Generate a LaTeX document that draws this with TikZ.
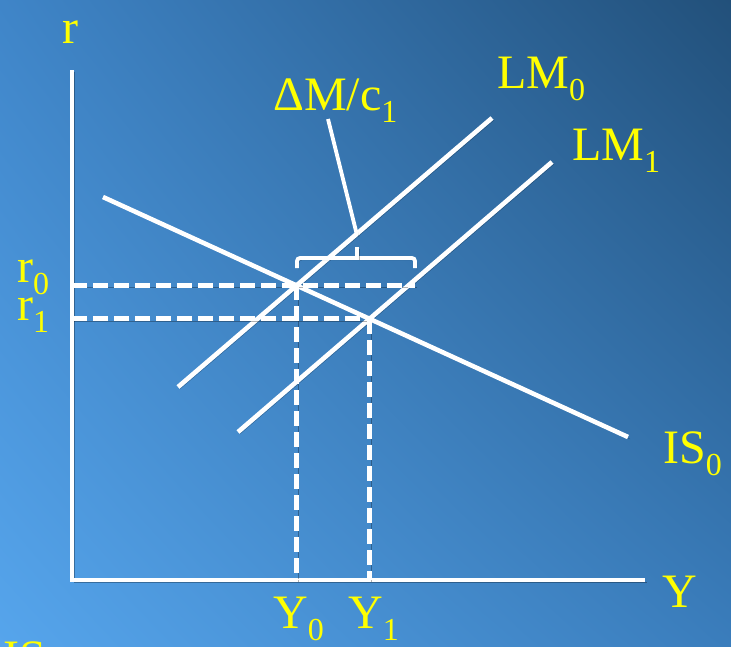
\documentclass[tikz,border=0pt]{standalone}
\usepackage{fontspec}
\setmainfont{Liberation Serif}
\usetikzlibrary{calc,shadings}
\definecolor{bgtl}{HTML}{3F85C8}
\definecolor{bgtr}{HTML}{22507A}
\definecolor{bgbl}{HTML}{56A5EC}
\definecolor{bgbr}{HTML}{3A7DBC}
\definecolor{lblyellow}{HTML}{FFFF00}
\newcommand{\subs}[1]{\raisebox{-12pt}{\fontsize{32}{32}\selectfont #1}}
\tikzset{
  shadowed/.style={preaction={draw=black, opacity=0.3, transform canvas={shift={(2pt,-2pt)}}}},
  curve/.style={draw=white, line width=4.6pt, shadowed},
  guide/.style={draw=white, line width=4.8pt, dash pattern=on 15pt off 6pt, shadowed},
  lbl/.style={text=lblyellow, anchor=base west, inner sep=0pt, font=\fontsize{48}{50}\selectfont}
}
\begin{document}
\begin{tikzpicture}[x=1pt,y=-1pt]
% Background
\shade[upper left=bgtl, upper right=bgtr, lower left=bgbl, lower right=bgbr] (0,0) rectangle (731,646);
\useasboundingbox (0,0) rectangle (731,646);
% Axes
\coordinate (O) at (72,580);
\coordinate (rtop) at (72,70);
\coordinate (Yend) at (645,580);
\draw[curve] (rtop) -- (O) -- (Yend);
% LM and IS curves
\coordinate (lm0a) at (178,387);
\coordinate (lm0b) at (492,118);
\coordinate (lm1a) at (238,432);
\coordinate (lm1b) at (552,162);
\coordinate (isa) at (103,197);
\coordinate (isb) at (628,437);
\draw[curve] (lm0a) -- (lm0b);
\draw[curve] (lm1a) -- (lm1b);
\draw[curve] (isa) -- (isb);
% Equilibria
\coordinate (E0) at (intersection of lm0a--lm0b and isa--isb);
\coordinate (E1) at (intersection of lm1a--lm1b and isa--isb);
% Brace
\coordinate (brL) at (297,258);
\coordinate (brR) at (415,258);
\coordinate (brTip) at (357,247);
\coordinate (ptrTop) at (328,119);
\coordinate (ptrEnd) at (357,235);
% Dashed guides
\draw[guide] (O |- E0) -- (E0 -| brR);
\draw[guide] (O |- E1) -- (E1);
\draw[guide] (E0) -- (E0 |- O);
\draw[guide] (E1) -- (E1 |- O);
\draw[curve, line width=3.8pt, rounded corners=3pt] ($(brL)+(0,10)$) -- (brL) -- (brR) -- ($(brR)+(0,10)$);
\draw[curve, line width=3.8pt] (brTip) -- (brTip |- brL);
\draw[curve, line width=3.8pt] (ptrTop) -- (ptrEnd);
% Labels
\node[lbl] (rlab) at (62,43) {r};
\node[lbl] (r0lab) at (17,282) {r\subs{0}};
\node[lbl] (r1lab) at (17,320) {r\subs{1}};
\node[lbl] (Ylab) at (662,607) {Y};
\node[lbl] (Y0lab) at (273,628) {Y\subs{0}};
\node[lbl] (Y1lab) at (348,628) {Y\subs{1}};
\node[lbl] (LM0lab) at (497,88) {LM\subs{0}};
\node[lbl] (LM1lab) at (572,160) {LM\subs{1}};
\node[lbl] (IS0lab) at (663,463) {IS\subs{0}};
\node[lbl] (dMlab) at (273,110) {ΔM/c\subs{1}};
\node[lbl] (ISlab) at (3,673) {IS};
\end{tikzpicture}
\end{document}
